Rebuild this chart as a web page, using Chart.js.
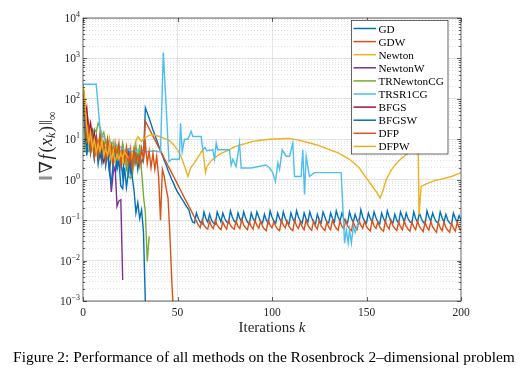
<!DOCTYPE html>
<html lang="en">
<head>
<meta charset="UTF-8">
<title>Rosenbrock 2-D: gradient norm per iteration</title>
<script src="https://cdn.jsdelivr.net/npm/chart.js@4.4.1/dist/chart.umd.min.js"></script>
<style>
  html, body { margin: 0; padding: 0; background: #ffffff; }
  #wrap { width: 522px; height: 376px; }
</style>
</head>
<body>
<div id="wrap"><canvas id="chart" width="522" height="376"></canvas></div>
<script>
// legend names and MATLAB default colours
const methods = ['GD', 'GDW', 'Newton', 'NewtonW', 'TRNewtonCG', 'TRSR1CG', 'BFGS', 'BFGSW', 'DFP', 'DFPW'];
const colors = ['#0072BD', '#D95319', '#EDB120', '#7E2F8E', '#77AC30', '#4DBEEE', '#A2142F', '#0072BD', '#D95319', '#EDB120'];
const xTicks = [0, 50, 100, 150, 200];
const yExp = [-3, -2, -1, 0, 1, 2, 3, 4];

// ||grad f(x_k)||_inf, one value per iteration k = 0, 1, 2, ...
const gd = [
  230, 25, 6, 14, 4.5, 9, 3.5, 11, 4, 7,
  2.8, 8.5, 3, 6, 1.6, 4.5, 2.2, 7, 1.8, 5,
  3, 1.2, 4, 2, 6, 1.5, 3.5, 2.5, 5, 1.8,
  4, 2.6, 3.5, 60, 45, 33, 24, 17, 13, 9.5,
  7, 5.2, 4, 3, 2.3, 1.7, 1.3, 1.0, 0.8, 0.62,
  0.5, 0.42, 0.35, 0.3, 0.25, 0.21, 0.18,
  0.12, 0.09, 0.085, 0.15, 0.11, 0.09, 0.08, 0.16, 0.11, 0.09,
  0.14, 0.1, 0.085, 0.08, 0.16, 0.12, 0.09, 0.15, 0.11, 0.09,
  0.085, 0.17, 0.12, 0.095, 0.085, 0.15, 0.11, 0.09, 0.16, 0.115,
  0.09, 0.08, 0.15, 0.11, 0.09, 0.16, 0.12, 0.09, 0.085, 0.14,
  0.1, 0.085, 0.17, 0.12, 0.095, 0.085, 0.15, 0.11, 0.09, 0.16,
  0.11, 0.09, 0.08, 0.15, 0.11, 0.09, 0.17, 0.12, 0.095, 0.085,
  0.15, 0.11, 0.09, 0.16, 0.115, 0.09, 0.08, 0.14, 0.1, 0.085,
  0.16, 0.12, 0.09, 0.085, 0.15, 0.11, 0.09, 0.17, 0.12, 0.095,
  0.15, 0.11, 0.09, 0.085, 0.16, 0.11, 0.09, 0.14, 0.1, 0.085,
  0.18, 0.12, 0.095, 0.085, 0.15, 0.11, 0.09, 0.16, 0.115, 0.09,
  0.08, 0.15, 0.11, 0.09, 0.17, 0.12, 0.09, 0.085, 0.14, 0.1,
  0.085, 0.16, 0.12, 0.09, 0.15, 0.11, 0.09, 0.085, 0.16, 0.11,
  0.09, 0.15, 0.11, 0.09, 0.08, 0.17, 0.12, 0.095, 0.15, 0.11,
  0.09, 0.085, 0.16, 0.115, 0.09, 0.14, 0.1, 0.085, 0.08, 0.15,
  0.11, 0.09, 0.13, 0.1
];
const gdw = [
  230, 60, 12, 25, 6, 15, 4, 10, 3.5, 12,
  5, 8, 3, 9, 4, 6.5, 2.5, 8, 3.5, 5,
  2.2, 7, 3, 4.5, 2, 6, 3, 5, 2.5, 4,
  3, 5.5, 4, 28, 22.7, 18.4, 14.9, 12, 9.8, 7.9,
  6.4, 5.2, 4.2, 3.4, 2.75, 2.2, 1.8, 1.46, 1.18, 0.96,
  0.78, 0.63, 0.51, 0.41, 0.33, 0.27, 0.22, 0.18, 0.145, 0.118,
  0.095,
  0.075, 0.065, 0.1, 0.075, 0.065, 0.06, 0.095, 0.07, 0.062, 0.1,
  0.075, 0.065, 0.058, 0.09, 0.07, 0.06, 0.1, 0.075, 0.065, 0.06,
  0.095, 0.07, 0.062, 0.105, 0.075, 0.065, 0.058, 0.09, 0.07, 0.06,
  0.1, 0.075, 0.063, 0.095, 0.07, 0.06, 0.055, 0.1, 0.075, 0.065,
  0.09, 0.07, 0.06, 0.055, 0.1, 0.075, 0.065, 0.095, 0.07, 0.06,
  0.055, 0.1, 0.072, 0.062, 0.09, 0.068, 0.058, 0.1, 0.075, 0.063,
  0.056, 0.095, 0.07, 0.06, 0.1, 0.072, 0.062, 0.055, 0.09, 0.068,
  0.058, 0.1, 0.075, 0.063, 0.056, 0.095, 0.07, 0.06, 0.1, 0.072,
  0.062, 0.055, 0.09, 0.068, 0.058, 0.1, 0.075, 0.063, 0.095, 0.07,
  0.06, 0.054, 0.1, 0.072, 0.062, 0.09, 0.068, 0.058, 0.053, 0.095,
  0.07, 0.06, 0.1, 0.072, 0.062, 0.055, 0.09, 0.068, 0.058, 0.095,
  0.07, 0.06, 0.053, 0.09, 0.068, 0.058, 0.095, 0.07, 0.06, 0.052,
  0.09, 0.066, 0.056, 0.092, 0.068, 0.058, 0.05, 0.088, 0.065, 0.055,
  0.09, 0.066, 0.056, 0.05, 0.085, 0.063, 0.054, 0.088, 0.065, 0.055
];
// Newton: read at uneven iterations along the smooth part
const newtonK = [
  0, 1, 2, 3, 4, 5, 6, 7, 8, 9, 10, 11, 12, 13, 14, 15, 16, 17, 18, 19,
  20, 21, 22, 23, 24, 25, 26, 27, 28, 29, 30.8, 32.5, 35, 37, 40.5, 43, 45.8, 48, 50, 52,
  54, 55.5, 57, 59, 61, 63.4, 64.8, 65.5, 68, 72, 76, 81, 86, 90, 95, 99, 104, 109, 114, 120,
  125, 130, 135, 141, 146, 150, 153, 155.5, 157.2, 158.8, 160.4, 163, 165.7, 168, 171, 174, 176.6, 177.3, 177.8, 178.9,
  182, 186, 190, 195, 200
];
const newtonV = [
  230, 100, 30, 12, 20, 8, 14, 6, 10, 7, 12, 6, 9, 5, 11, 6.5, 9, 5, 7, 3.5,
  4, 2.5, 3.5, 2.3, 3, 2.4, 4, 6, 9, 11.7, 8.9, 10.7, 12.5, 12.9, 11.7, 10.5, 9.3, 7.2, 5.5, 3.6,
  2.0, 1.2, 2.0, 2.6, 3.7, 5.5, 1.5, 2.1, 3.0, 4.2, 5.2, 6.8, 7.8, 8.9, 9.6, 10, 10.3, 10.5, 9.5, 8.1,
  7.0, 5.6, 4.6, 3.2, 2.0, 1.1, 0.7, 0.48, 0.35, 0.55, 1.0, 1.7, 2.5, 3.2, 4.2, 5.5, 7, 8.5, 0.135, 0.68,
  0.8, 0.95, 1.05, 1.2, 1.5
];
const newtonW = [
  230, 40, 28, 21, 12, 17, 8, 12, 5, 7.5,
  6.8, 3.5, 6, 4.6, 2.2, 0.5, 1.5, 2.1, 0.22, 0.3,
  0.32, 0.0033
];
const trNewtonCG = [
  230, 5, 5, 5, 8, 12, 18, 15, 25, 20,
  12, 15, 8, 9, 6, 5, 7, 4, 6, 3.5,
  5, 8, 4, 2.5, 1.2, 1.1, 1.15, 3, 7, 3,
  7.4, 1.6, 0.4, 0.15, 0.0095, 0.04
];
const trsr1K = [
  0, 7, 9, 10, 12, 14, 16, 18, 20, 22, 24, 26, 28, 30, 32, 35, 38, 41, 42.5, 45.5,
  47, 51, 51.6, 52.5, 53.7, 55.5, 57.2, 58.1, 62.5, 63.4, 64.5, 65.5, 68.7, 69.6, 70.5, 71.3, 77.5, 78.4, 79.3, 81,
  82.8, 83.7, 88.9, 96.9, 98.7, 100.4, 101.8, 103.1, 104, 105.4, 107.5, 109.3, 111, 111.9, 115.4, 116.3, 117.2, 118.1, 119.8, 122.5,
  136.6, 138.4, 139.3, 140.3, 141, 142, 143, 144, 146
];
const trsr1V = [
  230, 230, 18, 12.6, 10, 8.9, 7.9, 7.1, 6.3, 5.2, 5.6, 5, 5.2, 5.6, 4.8, 5, 5.2, 4.8, 1400, 2.8,
  3.2, 3.2, 25, 5, 10, 10, 15.8, 11.7, 11.7, 5.5, 6.3, 5.2, 5.5, 3.2, 8.1, 5.5, 5.5, 2.3, 3.2, 2.1,
  8.1, 1.95, 1.95, 2.3, 1.95, 1.5, 0.91, 2.6, 1.8, 5.5, 3.8, 3.8, 8.1, 1.2, 1.2, 5.5, 0.43, 3.8, 1.2, 1.5,
  1.5, 0.027, 0.058, 0.027, 0.058, 0.027, 0.07, 0.049, 0.1
];
const bfgs = [230, 35, 60, 15, 25, 9, 14, 5, 8, 3.5, 6, 2.8, 4];
const bfgsw = [
  230, 20, 4, 10, 5, 12, 3.5, 8, 2.5, 6,
  3, 7, 2.2, 5, 1.5, 0.85, 2.5, 4, 1.8, 3,
  0.7, 0.6, 2, 0.65, 1.5, 3, 1.2, 0.55, 0.15, 0.27,
  0.11, 0.18, 0.05, 0.0009
];
const dfp = [
  230, 50, 8, 18, 5, 11, 3.5, 9, 4, 13,
  6, 7.5, 3, 10, 4.5, 7, 2.8, 6, 3.8, 8,
  2.5, 5, 3.2, 6.5, 2.6, 4.2, 1.9, 5.5, 2.8, 4,
  2.2, 6, 3, 8, 2.5, 5, 2, 4.5, 1.8, 3.8,
  1.2, 0.1, 1.8, 1.2, 0.6, 0.35, 0.04, 0.003, 0.0004
];
const dfpw = [230, 80, 20, 8, 15, 6, 10, 4.5, 8, 5, 9, 3.8, 6, 4, 7, 3, 5, 2.8, 4.2, 3.2, 4.5, 3.4, 5, 4, 3.5];

const serif = '"Liberation Serif", "DejaVu Serif", serif';

function seq(arr) { return arr.map((v, i) => ({ x: i, y: v })); }
function pairs(ks, vs) { return ks.map((k, i) => ({ x: k, y: vs[i] })); }

const series = [
  seq(gd), seq(gdw), pairs(newtonK, newtonV), seq(newtonW), seq(trNewtonCG),
  pairs(trsr1K, trsr1V), seq(bfgs), seq(bfgsw), seq(dfp), seq(dfpw)
];

// grid values on the log axis: decades plus 2..9 in between
const yGrid = [];
yExp.forEach(e => {
  if (e === yExp[yExp.length - 1]) { yGrid.push(Math.pow(10, e)); return; }
  for (let m = 1; m <= 9; m++) yGrid.push(m * Math.pow(10, e));
});
function isDecade(v) {
  const l = Math.log10(v);
  return Math.abs(l - Math.round(l)) < 1e-9;
}

// draw a row of text pieces [text, font, dy, gapAfter]
function pieces(ctx, parts, x, y, align) {
  let w = 0;
  parts.forEach(p => { ctx.font = p[1]; w += ctx.measureText(p[0]).width + (p[3] || 0); });
  let cx = align === 'center' ? x - w / 2 : (align === 'right' ? x - w : x);
  parts.forEach(p => {
    ctx.font = p[1];
    ctx.fillText(p[0], cx, y + (p[2] || 0));
    cx += ctx.measureText(p[0]).width + (p[3] || 0);
  });
}

const decor = {
  id: 'decor',
  afterDraw(chart) {
    const { ctx, chartArea: a, scales: { x, y } } = chart;
    ctx.save();
    ctx.strokeStyle = '#262626';
    ctx.lineWidth = 0.7;
    ctx.strokeRect(a.left, a.top, a.right - a.left, a.bottom - a.top);

    // inward tick marks
    ctx.beginPath();
    xTicks.forEach(v => {
      const px = Math.round(x.getPixelForValue(v)) + 0.5;
      ctx.moveTo(px, a.bottom); ctx.lineTo(px, a.bottom - 4);
      ctx.moveTo(px, a.top); ctx.lineTo(px, a.top + 4);
    });
    yGrid.forEach(v => {
      const py = Math.round(y.getPixelForValue(v)) + 0.5;
      const len = isDecade(v) ? 4 : 2.2;
      ctx.moveTo(a.left, py); ctx.lineTo(a.left + len, py);
      ctx.moveTo(a.right, py); ctx.lineTo(a.right - len, py);
    });
    ctx.stroke();

    ctx.fillStyle = '#262626';
    ctx.textBaseline = 'alphabetic';
    // x tick labels
    ctx.font = '11.5px ' + serif;
    ctx.textAlign = 'center';
    xTicks.forEach(v => ctx.fillText(String(v), x.getPixelForValue(v), a.bottom + 15));
    ctx.textAlign = 'left';
    // y tick labels 10^e
    yExp.forEach(e => {
      const py = y.getPixelForValue(Math.pow(10, e));
      pieces(ctx, [['10', '11.5px ' + serif, 0], [String(e).replace('-', '\u2212'), '8px ' + serif, -5]], a.left - 3, py + 4, 'right');
    });

    // axis titles
    pieces(ctx, [['Iterations ', '15px ' + serif, 0], ['k', 'italic 15px ' + serif, 0]], (a.left + a.right) / 2, 332, 'center');
    ctx.save();
    ctx.translate(52, 146);
    ctx.rotate(-Math.PI / 2);
    const f = '18px ' + serif, fi = 'italic 18px ' + serif, fs = 'italic 12px ' + serif;
    pieces(ctx, [
      ['\u2016', f, 0, 2], ['\u2207', f, 0, 1.5], ['f', fi, 0, 2],
      ['(', f, 0, 0.5], ['x', fi, 0, 0], ['k', fs, 3, 0.5],
      [')', f, 0, 1], ['\u2016', f, 0, 0], ['\u221E', '12px ' + serif, 4, 0]
    ], 0, 0, 'center');
    ctx.restore();

    // legend box
    const lx = 351, ly = 20, lw = 96.5, lh = 133.5;
    ctx.fillStyle = '#ffffff';
    ctx.fillRect(lx, ly, lw, lh);
    ctx.strokeStyle = '#262626';
    ctx.lineWidth = 0.7;
    ctx.strokeRect(lx + 0.5, ly + 0.5, lw, lh);
    ctx.font = '11.2px ' + serif;
    chart.data.datasets.forEach((ds, i) => {
      const ry = ly + 8.5 + i * 13.1;
      ctx.strokeStyle = ds.borderColor;
      ctx.lineWidth = 1.5;
      ctx.beginPath(); ctx.moveTo(lx + 2.5, ry); ctx.lineTo(lx + 25, ry); ctx.stroke();
      ctx.fillStyle = '#000000';
      ctx.fillText(ds.label, lx + 27.5, ry + 4);
    });

    // figure caption
    const cap = 'Figure 2: Performance of all methods on the Rosenbrock 2\u2013dimensional problem';
    ctx.font = '12px ' + serif;
    const cs = 12 * 502 / ctx.measureText(cap).width;
    ctx.font = cs.toFixed(2) + 'px ' + serif;
    ctx.textAlign = 'center';
    ctx.fillStyle = '#000000';
    ctx.fillText(cap, 264, 362);
    ctx.restore();
  }
};

new Chart(document.getElementById('chart'), {
  type: 'line',
  data: {
    datasets: series.map((pts, i) => ({
      label: methods[i],
      data: pts,
      borderColor: colors[i],
      backgroundColor: colors[i],
      borderWidth: 1.4,
      pointRadius: 0,
      fill: false,
      tension: 0,
      order: methods.length - i
    }))
  },
  options: {
    responsive: false,
    animation: false,
    layout: { padding: { left: 83, right: 61, top: 18, bottom: 75 } },
    plugins: { legend: { display: false }, tooltip: { enabled: false } },
    scales: {
      x: {
        type: 'linear', min: 0, max: 200,
        ticks: { display: false, stepSize: 50 },
        grid: {
          drawTicks: false, lineWidth: 0.8,
          color: c => (c.tick && (c.tick.value === 0 || c.tick.value === 200)) ? 'rgba(0,0,0,0)' : '#dfdfdf'
        },
        border: { display: false }
      },
      y: {
        type: 'logarithmic', min: 1e-3, max: 1e4,
        ticks: { display: false },
        afterBuildTicks: s => { s.ticks = yGrid.map(v => ({ value: v })); },
        grid: {
          drawTicks: false,
          lineWidth: c => (c.tick && isDecade(c.tick.value)) ? 0.8 : 0.6,
          color: c => (c.tick && isDecade(c.tick.value)) ? '#dcdcdc' : '#cfcfcf'
        },
        border: { display: false, dash: c => (c.tick && isDecade(c.tick.value)) ? [] : [1, 2] }
      }
    }
  },
  plugins: [decor]
});
</script>
</body>
</html>
